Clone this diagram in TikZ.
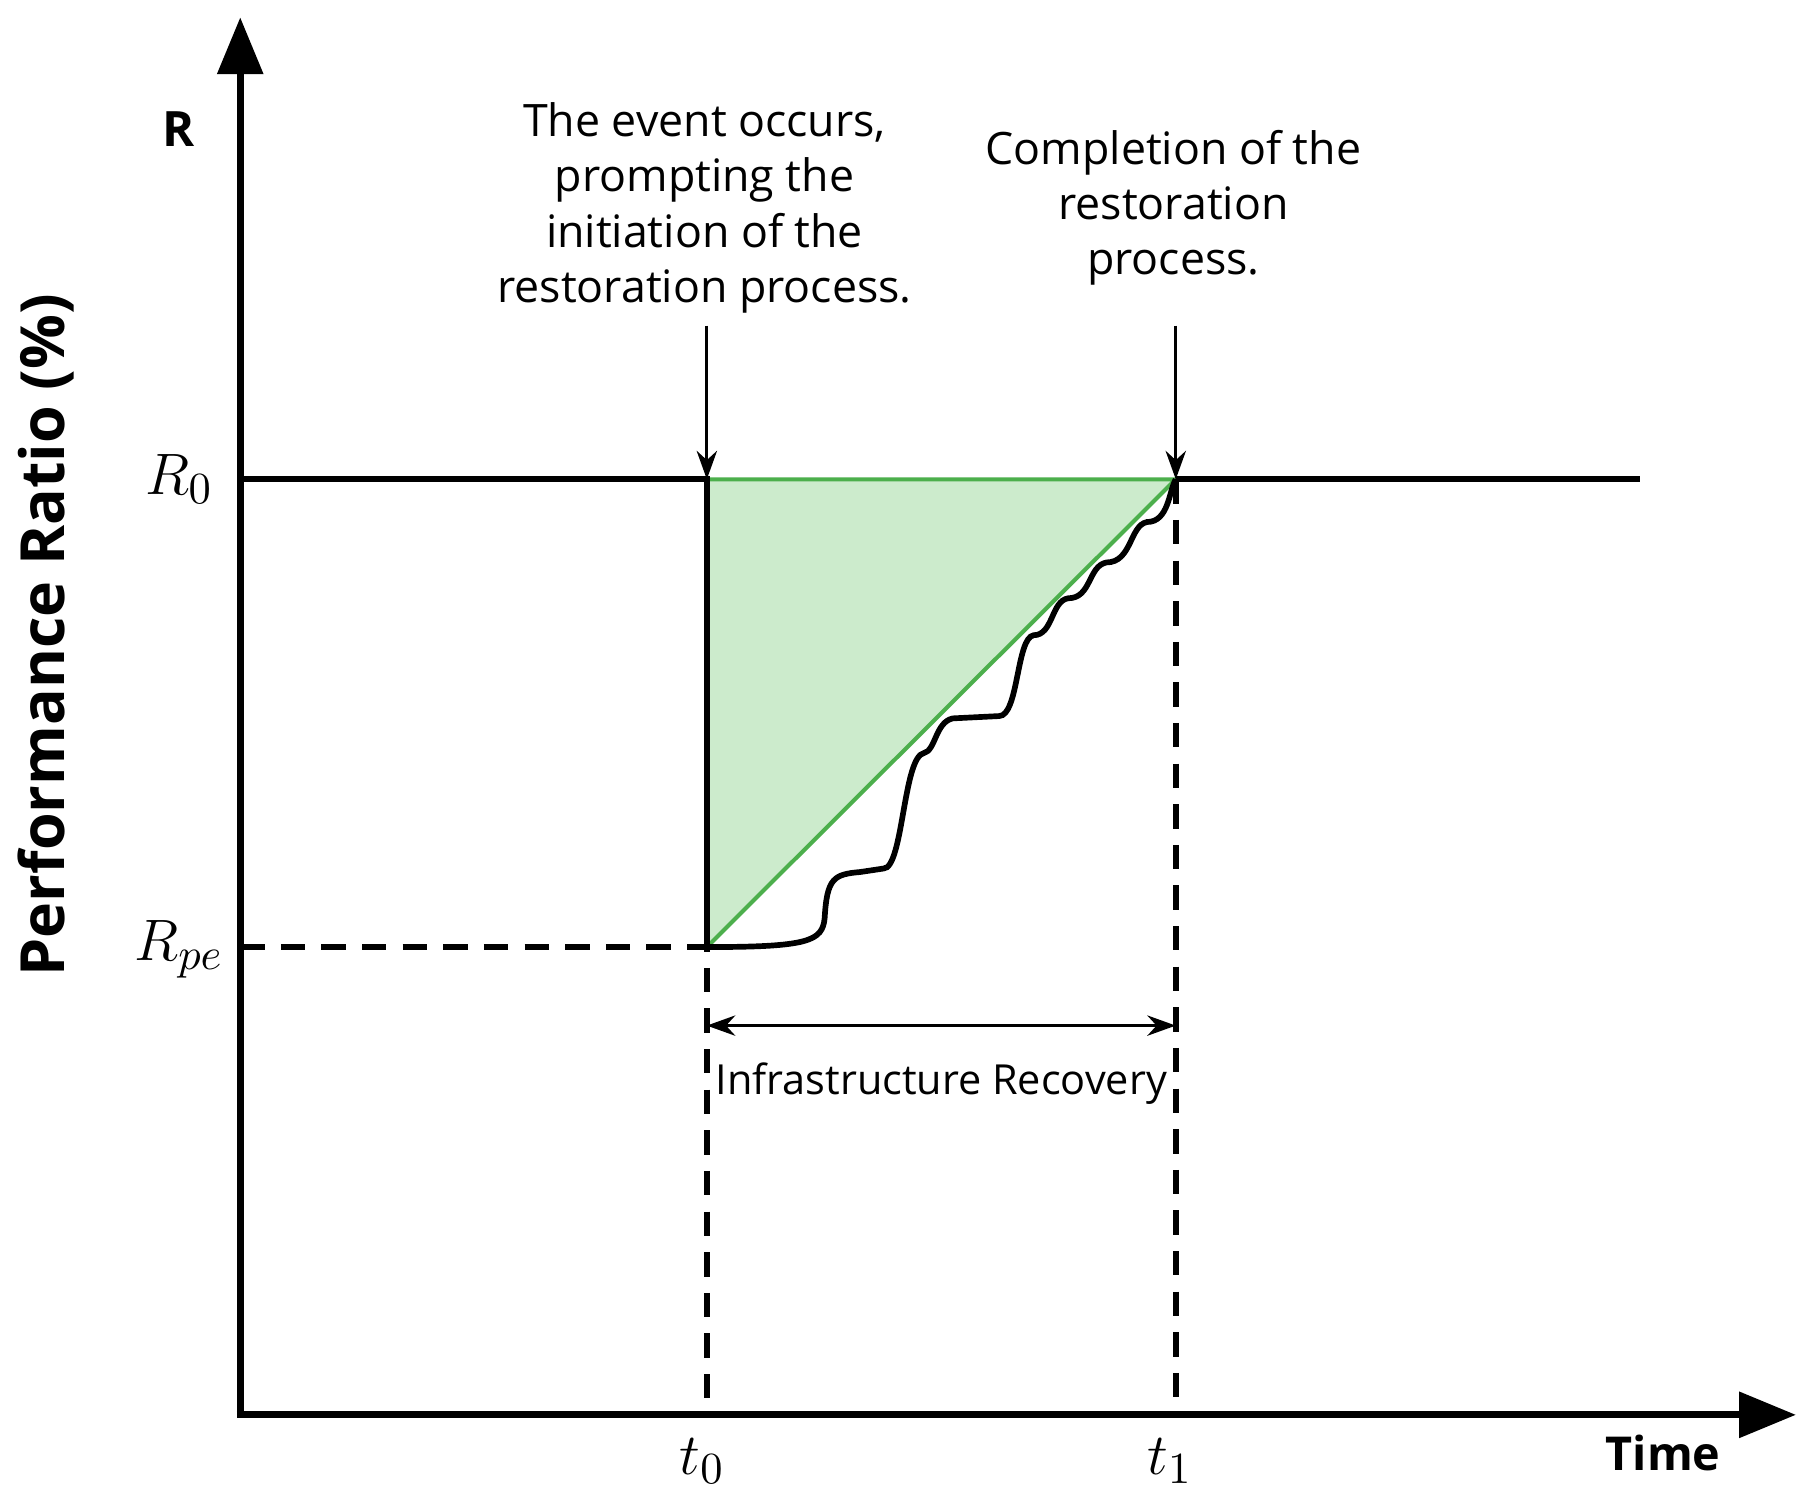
\documentclass[tikz,border=0pt]{standalone}
\usepackage{fontspec}
\setmainfont{Open Sans}
\usetikzlibrary{arrows.meta}
\begin{document}
\begin{tikzpicture}[x=0.01cm,y=-0.01cm,
  axis/.style={line width=1.8pt,-{Triangle[length=14pt,width=11pt]}},
  main/.style={line width=1.4pt},
  dashln/.style={line width=1.4pt,dash pattern=on 6pt off 4pt},
  ann/.style={line width=0.8pt,-{Stealth[length=7pt,width=5pt]}},
  lbl/.style={font=\fontsize{11}{13.6}\selectfont,align=center},
  math/.style={font=\fontsize{15.5}{18}\selectfont}]
\useasboundingbox (0,0) rectangle (1568,1292);
\coordinate (O) at (208,1225);
\coordinate (Ytop) at (208,15);
\coordinate (Xend) at (1555,1225);
\coordinate (A) at (612,415);
\coordinate (B) at (1018,415);
\coordinate (C) at (612,820);
\coordinate (L0) at (208,415);
\coordinate (Lpe) at (208,820);
\coordinate (R0end) at (1420,415);
\coordinate (T0) at (612,1225);
\coordinate (T1) at (1018,1225);
\fill[fill=green!60!black!20] (A) -- (B) -- (C) -- cycle;
\draw[line width=1pt,green!55!black!70] (C) -- (A) -- (B) -- (C);
\draw[axis] (205,1225) -- (Xend);
\draw[axis] (O) -- (Ytop);
\draw[main] (L0) -- (A) -- (C);
\draw[main] (B) -- (R0end);
\draw[dashln] (Lpe) -- (C) -- (T0);
\draw[dashln] (B) -- (T1);
\draw[main] (C) .. controls (700,820) and (712,815) .. (714,795)
.. controls (716,760) and (722,757) .. (745,755)
-- (765,752) .. controls (782,752) and (782,655) .. (800,652)
.. controls (810,650) and (810,625) .. (825,622)
-- (865,620) .. controls (882,620) and (880,552) .. (895,550)
.. controls (912,550) and (910,520) .. (925,518)
.. controls (945,518) and (942,490) .. (958,487)
.. controls (980,487) and (978,455) .. (993,452)
.. controls (1012,452) and (1012,425) .. (B);
\coordinate (a1) at (612,282);
\coordinate (a2) at (1018,282);
\draw[ann] (a1) -- (A);
\draw[ann] (a2) -- (B);
\coordinate (d1) at (612,888);
\coordinate (d2) at (1018,888);
\draw[line width=0.8pt,{Stealth[length=7pt,width=5pt]}-{Stealth[length=7pt,width=5pt]}] (d1) -- (d2);
\node[lbl] (t1) at (610,180) {The event occurs,\\prompting the\\initiation of the\\restoration process.};
\node[lbl] (t2) at (1016,180) {Completion of the\\restoration\\process.};
\node[font=\fontsize{10.2}{12}\selectfont] (rec) at (815,938) {Infrastructure Recovery};
\node[font=\bfseries\fontsize{12}{14}\selectfont] (R) at (155,112) {R};
\node[font=\bfseries\fontsize{11.5}{14}\selectfont] (time) at (1440,1258) {Time};
\node[font=\bfseries\fontsize{15}{18}\selectfont,rotate=90] (yl) at (40,550) {Performance Ratio (\%)};
\node[math] (r0) at (155,415) {$R_0$};
\node[math] (rpe) at (155,822) {$R_{pe}$};
\node[math] (tt0) at (608,1265) {$t_0$};
\node[math] (tt1) at (1013,1265) {$t_1$};
\end{tikzpicture}
\end{document}
